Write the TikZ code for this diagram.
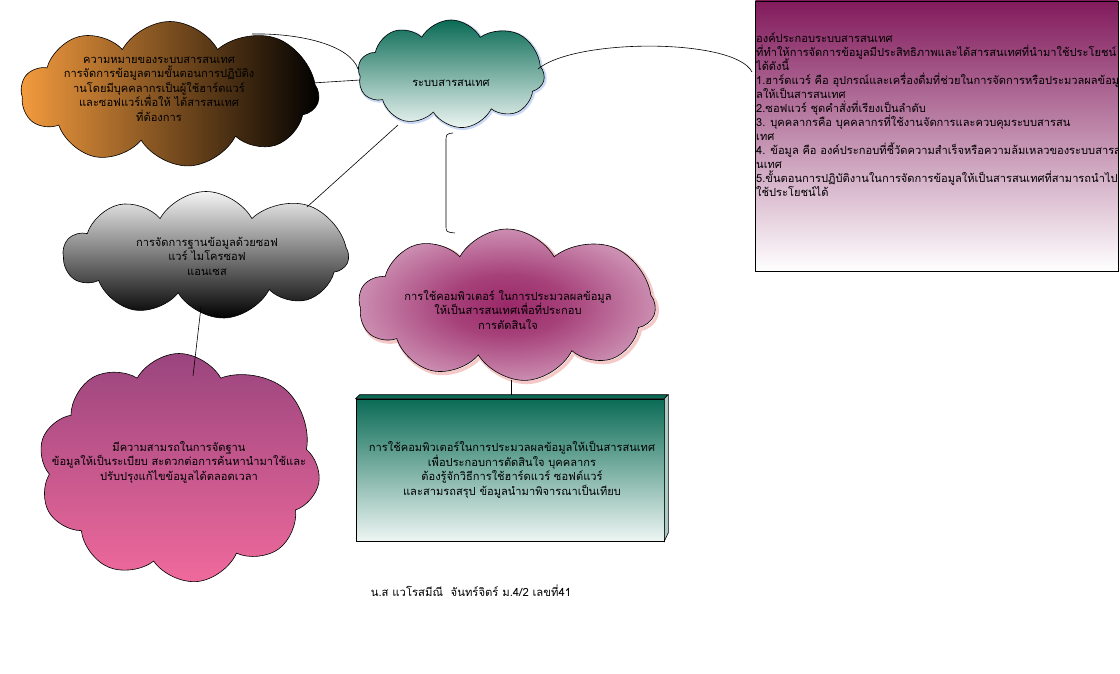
\documentclass[tikz,border=0pt]{standalone}
\usepackage{fontspec}
\setmainfont[Script=Thai]{Loma}
\usetikzlibrary{shapes.symbols}
\definecolor{cOrange}{HTML}{F49B3E}
\definecolor{cTeal}{HTML}{0A6B55}
\definecolor{cTealLight}{HTML}{EEF6F3}
\definecolor{cGray}{HTML}{F4F4F4}
\definecolor{cMauve}{HTML}{9A457E}
\definecolor{cPink}{HTML}{F06A9C}
\definecolor{cMag}{HTML}{9A2868}
\definecolor{cMagLight}{HTML}{ECD0E1}
\definecolor{cPurple}{HTML}{821A5C}
\definecolor{cGlowBlue}{HTML}{C9D9F5}
\definecolor{cGlowRed}{HTML}{F6C9C9}
\pgfdeclareradialshading{pinkglow}{\pgfpoint{0bp}{0bp}}{color(0bp)=(cMag); color(10bp)=(cMag!85!cMagLight); color(38bp)=(cMagLight); color(50bp)=(cMagLight)}
\begin{document}
\begin{tikzpicture}[x=1pt,y=-1pt]
\tikzset{
  cl/.style={cloud, cloud puffs=9.6, cloud puff arc=122, cloud ignores aspect, draw=black, line width=0.6pt, inner sep=0pt},
  txt/.style={font=\fontsize{11.1}{14.5}\selectfont, align=center, inner sep=0pt, text=black},
  ltxt/.style={font=\fontsize{11.1}{14}\selectfont, anchor=base west, inner sep=0pt, text=black},
  conn/.style={draw=black, line width=0.6pt}
}
\useasboundingbox (0,0) rectangle (1120,673);
\fill[white] (0,0) rectangle (1120,673);

% right box
\node[draw=black, line width=0.8pt, minimum width=363pt, minimum height=270pt, top color=cPurple, bottom color=white, anchor=north west, inner sep=0pt] (rbox) at (755,0.5) {};
\begin{scope}
\clip (755,0) rectangle (1117.5,270);
\node[ltxt] (r1) at (756,42) {องค์ประกอบระบบสารสนเทศ};
\node[ltxt] (r2) at (756,56) {ที่ทำให้การจัดการข้อมูลมีประสิทธิภาพและได้สารสนเทศที่นำมาใช้ประโยชน์};
\node[ltxt] (r3) at (756,70) {ได้ดังนี้};
\node[ltxt] (r4) at (756,84) {1.ฮาร์ดแวร์ คือ อุปกรณ์และเครื่องดื่มที่ช่วยในการจัดการหรือประมวลผลข้อมู};
\node[ltxt] (r5) at (756,98) {ลให้เป็นสารสนเทศ};
\node[ltxt] (r6) at (756,112) {2.ซอฟแวร์ ชุดคำสั่งที่เรียงเป็นลำดับ};
\node[ltxt] (r7) at (756,126) {3. บุคคลากรคือ บุคคลากรที่ใช้งานจัดการและควบคุมระบบสารสน};
\node[ltxt] (r8) at (756,140) {เทศ};
\node[ltxt] (r9) at (756,154) {4. ข้อมูล คือ องค์ประกอบที่ชี้วัดความสำเร็จหรือความล้มเหลวของระบบสารสน};
\node[ltxt] (r10) at (756,168) {นเทศ};
\node[ltxt] (r11) at (756,182) {5.ขั้นตอนการปฏิบัติงานในการจัดการข้อมูลให้เป็นสารสนเทศที่สามารถนำไป};
\node[ltxt] (r12) at (756,196) {ใช้ประโยชน์ได้};
\end{scope}

% clouds
\node[cl, minimum width=298pt, minimum height=145pt, left color=cOrange, right color=black] (cbrown) at (170,94) {};
\node[txt] (tbrown) at (159,89) {ความหมายของระบบสารสนเทศ\\การจัดการข้อมูลตามขั้นตอนการปฏิบัติง\\านโดยมีบุคคลากรเป็นผู้ใช้ฮาร์ดแวร์\\และซอฟแวร์เพื่อให้ ได้สารสนเทศ\\ที่ต้องการ};

\node[cl, draw=cGlowBlue, line width=3pt, minimum width=187pt, minimum height=108pt] (cglow) at (452,75) {};
\node[cl, minimum width=187pt, minimum height=108pt, top color=cTeal, bottom color=cTealLight] (cteal) at (451,74) {};
\node[txt] (tteal) at (451,83) {ระบบสารสนเทศ};

\node[cl, minimum width=285pt, minimum height=127pt, top color=cGray, bottom color=black] (cgray) at (206,255) {};
\node[txt] (tgray) at (207,256) {การจัดการฐานข้อมูลด้วยซอฟ\\แวร์ ไมโครซอฟ\\แอนเซส};

\node[cl, minimum width=282pt, minimum height=229pt, top color=cMauve, bottom color=cPink] (cpink) at (179,468) {};
\node[txt] (tpink) at (179,462) {มีความสามรถในการจัดฐาน\\ข้อมูลให้เป็นระเบียบ สะดวกต่อการค้นหานำมาใช้และ\\ปรับปรุงแก้ไขข้อมูลได้ตลอดเวลา};

\node[cl, draw=cGlowRed, line width=3.5pt, minimum width=297pt, minimum height=152pt] (cmglow) at (509,307) {};
\node[cl, minimum width=297pt, minimum height=152pt, shading=pinkglow] (cmag) at (507,305) {};
\node[txt] (tmag) at (508,310) {การใช้คอมพิวเตอร์ ในการประมวลผลข้อมูล\\ให้เป็นสารสนเทศเพื่อที่ประกอบ\\การตัดสินใจ};

% green 3D box
\node[draw=black, line width=0.6pt, minimum width=308pt, minimum height=142pt, top color=cTeal, bottom color=cTealLight, inner sep=0pt] (gbox) at (510,470) {};
\draw[line width=0.6pt, fill=cTeal] (gbox.north west) -- ++(4,-4) -- ++(308,0) -- (gbox.north east) -- cycle;
\draw[line width=0.6pt, fill=cTealLight!70!cTeal] (gbox.north east) -- ++(4,-4) -- ++(0,138) -- (gbox.south east) -- cycle;
\node[txt] (tgbox) at (512,470) {การใช้คอมพิวเตอร์ในการประมวลผลข้อมูลให้เป็นสารสนเทศ\\เพื่อประกอบการตัดสินใจ บุคคลากร\\ต้องรู้จักวิธีการใช้ฮาร์ดแวร์ ซอฟต์แวร์\\และสามรถสรุป ข้อมูลนำมาพิจารณาเป็นเทียบ};

% footer
\node[font=\fontsize{11.3}{13}\selectfont, inner sep=0pt] (footer) at (471,591) {น.ส แวโรสมีณี~~จันทร์จิตร์ ม.4/2 เลขที่41};

% connector end points
\coordinate (a1) at (252,34);
\coordinate (a2) at (358,69);
\coordinate (b1) at (312,83);
\coordinate (b2) at (360,80);
\coordinate (d1) at (538,69);
\coordinate (d2) at (752,72);
\coordinate (e1) at (398,125);
\coordinate (e2) at (307,207);
\coordinate (f1) at (453,133);
\coordinate (f2) at (455,233);
\coordinate (g1) at (201,307);
\coordinate (g2) at (193,376);
\coordinate (h1) at (511,380);
\coordinate (h2) at (511,395);

\draw[conn] (a1) .. controls (300,33) and (350,45) .. (a2);
\draw[conn] (b1) -- (b2);
\draw[conn] (d1) .. controls (575,38) and (735,38) .. (d2);
\draw[conn] (e1) -- (e2);
\draw[conn] (f1) .. controls (446,134) .. (446,142) -- (446,225) .. controls (446,232) .. (f2);
\draw[conn] (g1) -- (g2);
\draw[conn] (h1) -- (h2);
\end{tikzpicture}
\end{document}
